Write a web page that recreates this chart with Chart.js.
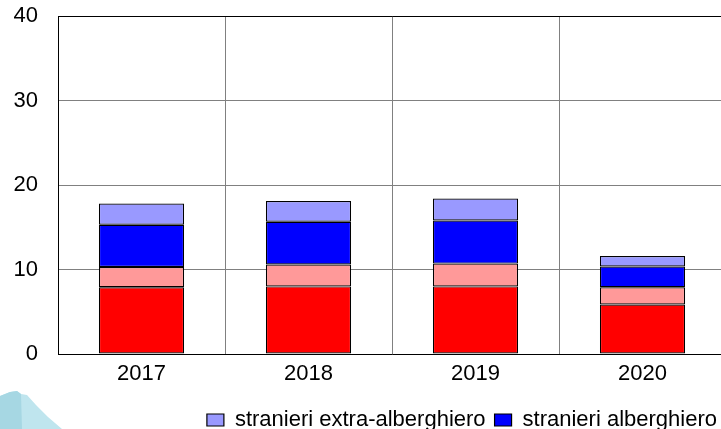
<!DOCTYPE html>
<html>
<head>
<meta charset="utf-8">
<script src="https://cdn.jsdelivr.net/npm/chart.js@4/dist/chart.umd.min.js"></script>
<style>
  html, body { margin: 0; padding: 0; background: #ffffff; overflow: hidden; }
  #wrap { position: relative; width: 721px; height: 429px; overflow: hidden; background: #ffffff; }
  #c { position: absolute; left: 0; top: 0; }
</style>
</head>
<body>
<div id="wrap"><canvas id="c" width="760" height="472"></canvas></div>
<script>
// ---- data ----
const categories = ['2017', '2018', '2019', '2020'];
const italianiAlberghiero = [7.9, 8.0, 8.0, 5.85];
const italianiExtraAlberghiero = [2.4, 2.6, 2.7, 2.05];
const stranieriAlberghiero = [5.0, 5.05, 5.1, 2.45];
const stranieriExtraAlberghiero = [2.5, 2.45, 2.6, 1.25];
const seriesLabels = ['italiani alberghiero', 'italiani extra-alberghiero', 'stranieri alberghiero', 'stranieri extra-alberghiero'];
const yMin = 0, yMax = 40, yStep = 10;

const FONT = "'Liberation Sans', Arial, sans-serif";

const logoPlugin = {
  id: 'logo',
  beforeDraw(chart) {
    const ctx = chart.ctx;
    ctx.save();
    ctx.fillStyle = '#bfe5ee';
    ctx.beginPath();
    ctx.moveTo(0, 396);
    ctx.lineTo(10, 392);
    ctx.lineTo(17, 391);
    ctx.lineTo(21, 394);
    ctx.lineTo(27, 395);
    ctx.lineTo(36, 405);
    ctx.lineTo(48, 417);
    ctx.lineTo(62, 429);
    ctx.lineTo(0, 429);
    ctx.closePath();
    ctx.fill();
    ctx.fillStyle = '#a6d7e3';
    ctx.beginPath();
    ctx.moveTo(0, 396);
    ctx.lineTo(10, 392);
    ctx.lineTo(17, 391);
    ctx.lineTo(21, 394);
    ctx.lineTo(22, 429);
    ctx.lineTo(0, 429);
    ctx.closePath();
    ctx.fill();
    ctx.restore();
  }
};

new Chart(document.getElementById('c'), {
  type: 'bar',
  data: {
    labels: categories,
    datasets: [
      { label: seriesLabels[0], data: italianiAlberghiero, backgroundColor: '#ff0000' },
      { label: seriesLabels[1], data: italianiExtraAlberghiero, backgroundColor: '#ff9999' },
      { label: seriesLabels[2], data: stranieriAlberghiero, backgroundColor: '#0000ff' },
      { label: seriesLabels[3], data: stranieriExtraAlberghiero, backgroundColor: '#9999ff' }
    ].map(d => Object.assign(d, {
      borderColor: '#000000',
      borderWidth: 1.2,
      borderSkipped: false,
      categoryPercentage: 1.0,
      barPercentage: 0.51
    }))
  },
  options: {
    responsive: false,
    animation: false,
    devicePixelRatio: 1,
    layout: { padding: { top: 16, right: 34, left: 0, bottom: 0 } },
    plugins: {
      tooltip: { enabled: false },
      title: { display: false },
      legend: {
        display: true,
        position: 'bottom',
        align: 'end',
        reverse: true,
        labels: {
          color: '#000000',
          font: { family: FONT, size: 22 },
          boxWidth: 17,
          boxHeight: 12,
          padding: 9
        }
      }
    },
    scales: {
      x: {
        stacked: true,
        grid: { display: true, color: '#808080', lineWidth: 1, drawTicks: false, offset: true },
        border: { display: true, color: '#000000', width: 1 },
        ticks: { color: '#000000', font: { family: FONT, size: 22 }, padding: 7, maxRotation: 0 },
        afterFit(scale) { scale.height = 46; }
      },
      y: {
        stacked: true,
        min: yMin,
        max: yMax,
        grid: {
          display: true,
          drawTicks: false,
          lineWidth: 1,
          color: ctx => (ctx.tick && ctx.tick.value === yMax) ? '#000000' : '#808080'
        },
        border: { display: true, color: '#000000', width: 1 },
        ticks: { stepSize: yStep, color: '#000000', font: { family: FONT, size: 22 }, padding: 20 },
        afterFit(scale) {
          scale.width = 58;
          scale.paddingTop = 12;
          scale.paddingBottom = 12;
        }
      }
    }
  },
  plugins: [logoPlugin]
});
</script>
</body>
</html>
